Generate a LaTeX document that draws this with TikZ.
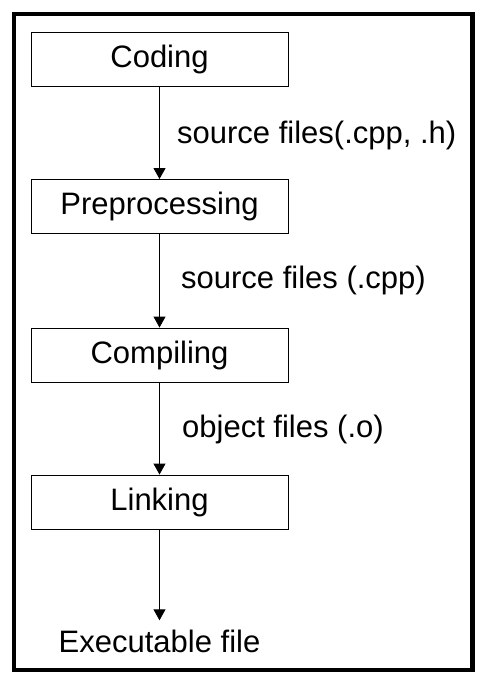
\documentclass[tikz,border=0pt]{standalone}
\usepackage{fontspec}
\setmainfont{Liberation Sans}
\usetikzlibrary{arrows.meta}
\begin{document}
\begin{tikzpicture}[x=1pt,y=-1pt,
  stagebox/.style={draw=black,line width=0.9pt,minimum width=257pt,minimum height=54pt,inner sep=0pt,font=\fontsize{31}{36}\selectfont},
  lbl/.style={anchor=base west,inner sep=0pt,font=\fontsize{31}{36}\selectfont},
  flow/.style={line width=0.9pt,-{Triangle[width=12pt,length=11pt]}}]
\useasboundingbox (0,0) rectangle (484,679);
\draw[line width=4.5pt] (14,14) rectangle (472.5,670);
\node[stagebox] (code) at (159.5,59) {Coding};
\node[stagebox] (pre) at (159.5,206.5) {Preprocessing};
\node[stagebox] (comp) at (159.5,355) {Compiling};
\node[stagebox] (link) at (159.5,502) {Linking};
\node[anchor=base,inner sep=0pt,font=\fontsize{31}{36}\selectfont] (exe) at (159.5,652) {Executable file};
\draw[flow] (code) -- (pre);
\draw[flow] (pre) -- (comp);
\draw[flow] (comp) -- (link);
\draw[flow,shorten >=9pt] (link.south) -- (link.south |- exe.north);
\node[lbl] (l1) at (177,144) {source files(.cpp, .h)};
\node[lbl] (l2) at (181,288) {source files (.cpp)};
\node[lbl] (l3) at (182,437) {object files (.o)};
\end{tikzpicture}
\end{document}
